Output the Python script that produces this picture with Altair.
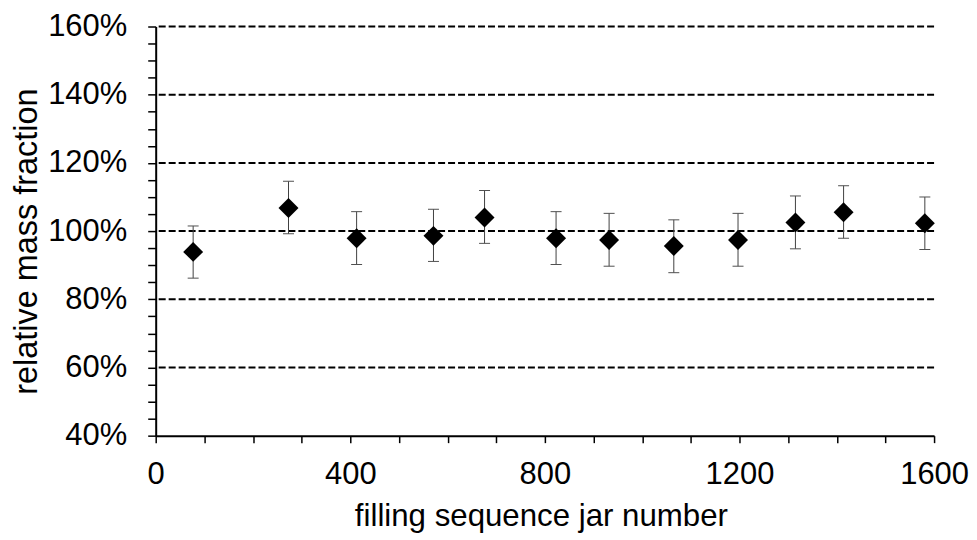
import altair as alt
import pandas as pd

# jar number (filling sequence)
jar = [77, 273, 413, 571, 676, 823, 932, 1065, 1197, 1315, 1414, 1581]
# relative mass fraction (%)
value = [93.9, 106.8, 97.9, 98.6, 104.0, 97.9, 97.4, 95.6, 97.4, 102.5, 105.5, 102.3]
upper = [101.5, 114.6, 105.7, 106.4, 111.9, 105.7, 105.2, 103.3, 105.2, 110.3, 113.3, 110.0]
lower = [86.2, 99.2, 90.2, 91.1, 96.4, 90.2, 89.7, 87.8, 89.7, 94.8, 97.9, 94.6]

grid_values = [60, 80, 100, 120, 140, 160]
y_ticks = list(range(40, 161, 5))
x_ticks = list(range(0, 1601, 100))

df = pd.DataFrame({"jar": jar, "value": value, "upper": upper, "lower": lower})
grid_df = pd.DataFrame({"g": grid_values})

FONT = "Liberation Sans"

x_scale = alt.Scale(domain=[0, 1600], nice=False, zero=False)
y_scale = alt.Scale(domain=[40, 160], nice=False, zero=False)

x_axis = alt.Axis(
    values=x_ticks,
    format="d",
    labelExpr="datum.value % 400 == 0 ? datum.label : ''",
    title="filling sequence jar number",
    grid=False,
    tickSize=7,
    labelPadding=41,
    labelBaseline="alphabetic",
    titleX=386,
    titleY=90,
    titleBaseline="alphabetic",
    titleFontSize=31.3,
)
y_axis = alt.Axis(
    values=y_ticks,
    labelExpr="datum.value % 20 == 0 ? datum.value + '%' : ''",
    title="relative mass fraction",
    grid=False,
    tickSize=8,
    labelPadding=21,
    titleX=-119,
    titleY=215,
    titleAngle=-90,
    titleAlign="center",
    titleBaseline="alphabetic",
    titleFontSize=32.5,
)

grid = alt.Chart(grid_df).mark_rule(
    color="black", strokeWidth=2, strokeDash=[7, 3]
).encode(y=alt.Y("g:Q", scale=y_scale, axis=y_axis))

bars = alt.Chart(df).mark_rule(color="#404040", strokeWidth=1).encode(
    x=alt.X("jar:Q", scale=x_scale, axis=x_axis),
    y=alt.Y("lower:Q", scale=y_scale, axis=y_axis),
    y2="upper:Q",
)

cap_top = alt.Chart(df).mark_tick(
    orient="horizontal", color="#505050", size=11, thickness=1, opacity=1
).encode(
    x=alt.X("jar:Q", scale=x_scale, axis=x_axis),
    y=alt.Y("upper:Q", scale=y_scale, axis=y_axis),
)
cap_bot = alt.Chart(df).mark_tick(
    orient="horizontal", color="#505050", size=11, thickness=1, opacity=1
).encode(
    x=alt.X("jar:Q", scale=x_scale, axis=x_axis),
    y=alt.Y("lower:Q", scale=y_scale, axis=y_axis),
)

points = alt.Chart(df).mark_point(
    shape="diamond", filled=True, size=400, color="black", opacity=1
).encode(
    x=alt.X("jar:Q", scale=x_scale, axis=x_axis),
    y=alt.Y("value:Q", scale=y_scale, axis=y_axis),
)

chart = (
    alt.layer(grid, bars, cap_top, cap_bot, points)
    .properties(
        width=780,
        height=410,
        autosize=alt.AutoSizeParams(type="none"),
        padding={"left": 148, "top": 18, "right": 35, "bottom": 100},
        background="white",
    )
    .configure_view(stroke=None)
    .configure_axis(
        domainColor="black",
        domainWidth=2,
        tickColor="black",
        tickWidth=1.5,
        labelFont=FONT,
        labelFontSize=31,
        labelColor="black",
        titleFont=FONT,
        titleFontWeight="normal",
        titleColor="black",
        labelOverlap=False,
        labelFlush=False,
    )
)

chart.save("out.html", embed_options={"renderer": "svg", "actions": False})
